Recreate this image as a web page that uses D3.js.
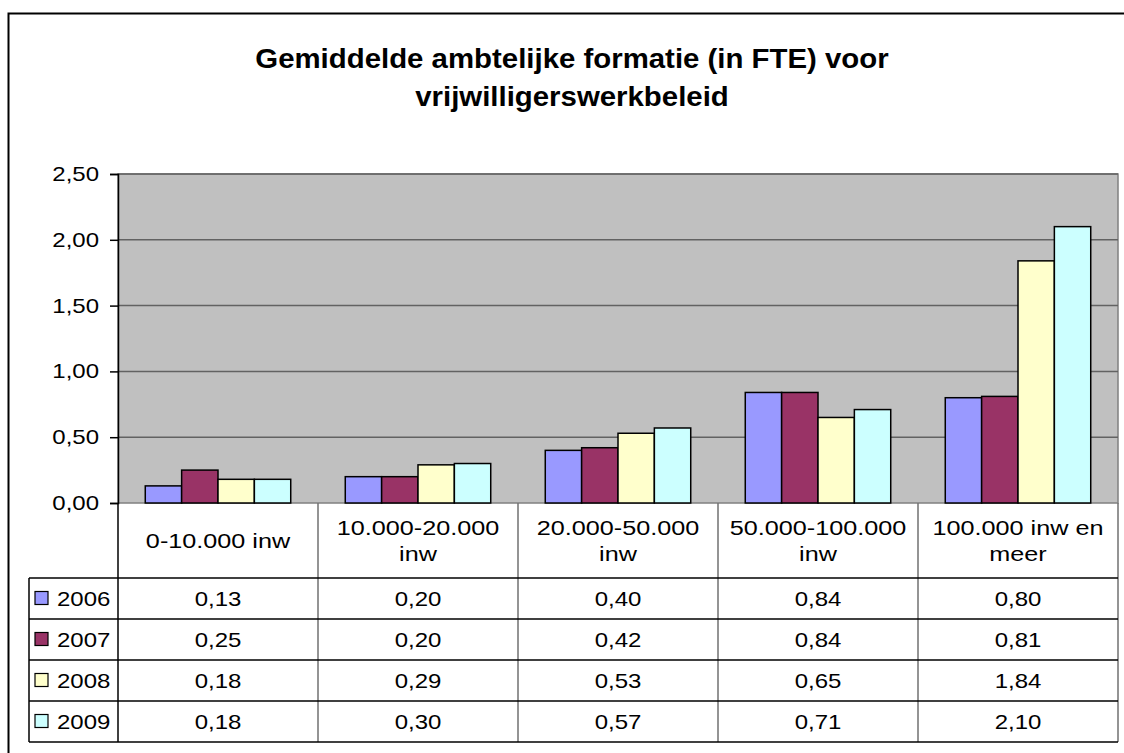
<!DOCTYPE html>
<html lang="nl">
<head>
    <meta charset="UTF-8">
    <title>Gemiddelde ambtelijke formatie (in FTE) voor vrijwilligerswerkbeleid</title>
    <script src="https://d3js.org/d3.v7.min.js"></script>
    <style>
        body { margin: 0; background: #fff; }
        svg { display: block; font-family: "Liberation Sans", Arial, sans-serif; }
    </style>
</head>
<body>
    <div id="chart"></div>
    <script>
        // Data
        const categories = [["0-10.000 inw"], ["10.000-20.000", "inw"], ["20.000-50.000", "inw"],
                            ["50.000-100.000", "inw"], ["100.000 inw en", "meer"]];
        const years = ["2006", "2007", "2008", "2009"];
        const values2006 = [0.13, 0.20, 0.40, 0.84, 0.80];
        const values2007 = [0.25, 0.20, 0.42, 0.84, 0.81];
        const values2008 = [0.18, 0.29, 0.53, 0.65, 1.84];
        const values2009 = [0.18, 0.30, 0.57, 0.71, 2.10];
        const yTicks = [0, 0.5, 1, 1.5, 2, 2.5];
        const colors = ["#9999FF", "#993366", "#FFFFCC", "#CCFFFF"];

        const series = [values2006, values2007, values2008, values2009];
        const nl = d3.formatLocale({decimal: ",", thousands: ".", grouping: [3], currency: ["€", ""]});
        const fmt = nl.format(".2f");

        // the original renders its small text noticeably wide, so stretch it a bit
        const SX = 1.2;
        const FS = "20px";

        const svg = d3.select("#chart").append("svg")
            .attr("width", 1124)
            .attr("height", 753);

        // Outer chart frame (runs off the right and bottom edges)
        svg.append("rect")
            .attr("x", 8.5).attr("y", 13.5)
            .attr("width", 1130).attr("height", 760)
            .attr("fill", "none")
            .attr("stroke", "#000")
            .attr("stroke-width", 2);

        // Title
        const titleLines = ["Gemiddelde ambtelijke formatie (in FTE) voor", "vrijwilligerswerkbeleid"];
        svg.append("g").selectAll("text")
            .data(titleLines)
            .join("text")
            .attr("x", 572 / 1.05)
            .attr("y", (d, i) => 68 + i * 38)
            .attr("transform", "scale(1.05,1)")
            .attr("text-anchor", "middle")
            .style("font-size", "28px").style("font-weight", "bold")
            .text(d => d);

        const plot = {left: 118, right: 1118, top: 174, bottom: 503};

        // Scales
        const x = d3.scaleBand()
            .domain(d3.range(categories.length))
            .range([plot.left, plot.right]);
        const xInner = d3.scaleBand()
            .domain(years)
            .range([0, x.bandwidth()])
            .paddingInner(0)
            .paddingOuter(0.75);
        const y = d3.scaleLinear()
            .domain([0, 2.5])
            .range([plot.bottom, plot.top]);

        // Plot area
        svg.append("rect")
            .attr("x", plot.left).attr("y", plot.top)
            .attr("width", plot.right - plot.left).attr("height", plot.bottom - plot.top)
            .attr("fill", "#C0C0C0")
            .attr("stroke", "#808080")
            .attr("stroke-width", 1.5);

        // Gridlines
        svg.append("g")
            .selectAll("line")
            .data(yTicks.filter(d => d > 0))
            .join("line")
            .attr("x1", plot.left).attr("x2", plot.right)
            .attr("y1", d => y(d)).attr("y2", d => y(d))
            .attr("stroke", "#626262")
            .attr("stroke-width", 1.5);

        // Y axis
        const yAxis = svg.append("g")
            .attr("transform", `translate(${plot.left},0)`)
            .call(d3.axisLeft(y).tickValues(yTicks).tickFormat(fmt).tickSize(8));
        yAxis.select(".domain").attr("stroke", "#000").attr("stroke-width", 1.5);
        yAxis.selectAll(".tick line").attr("stroke", "#000").attr("stroke-width", 1.5);
        yAxis.selectAll(".tick text")
            .attr("x", -19 / SX)
            .attr("transform", `scale(${SX},1)`)
            .style("font-size", FS)
            .style("font-family", "'Liberation Sans', Arial, sans-serif")
            .attr("fill", "#000");

        // Bars
        svg.append("g")
            .selectAll("g")
            .data(series)
            .join("g")
            .attr("fill", (d, i) => colors[i])
            .selectAll("rect")
            .data((vals, i) => vals.map((v, c) => ({v, c, year: years[i]})))
            .join("rect")
            .attr("x", d => x(d.c) + xInner(d.year))
            .attr("y", d => y(d.v))
            .attr("width", xInner.bandwidth())
            .attr("height", d => y(0) - y(d.v))
            .attr("stroke", "#000")
            .attr("stroke-width", 1.5);

        // Data table
        const table = {left: 29, headerBottom: 578, rowHeight: 41};
        const rowY = i => table.headerBottom + i * table.rowHeight;
        const tableBottom = rowY(years.length);

        const tg = svg.append("g");

        // vertical column lines
        tg.selectAll("line.col")
            .data(d3.range(categories.length + 1))
            .join("line")
            .attr("class", "col")
            .attr("x1", i => i < categories.length ? x(i) : plot.right)
            .attr("x2", i => i < categories.length ? x(i) : plot.right)
            .attr("y1", plot.bottom)
            .attr("y2", tableBottom)
            .attr("stroke", i => i === 0 ? "#000" : "#707070")
            .attr("stroke-width", 1.5);
        // legend column left edge
        tg.append("line")
            .attr("x1", table.left).attr("x2", table.left)
            .attr("y1", table.headerBottom).attr("y2", tableBottom)
            .attr("stroke", "#000").attr("stroke-width", 1.5);
        // horizontal row lines
        tg.selectAll("line.row")
            .data(d3.range(years.length + 1))
            .join("line")
            .attr("class", "row")
            .attr("x1", table.left).attr("x2", plot.right)
            .attr("y1", i => rowY(i)).attr("y2", i => rowY(i))
            .attr("stroke", "#000")
            .attr("stroke-width", 1.5);

        // category labels
        tg.selectAll("text.cat")
            .data(categories)
            .join("text")
            .attr("class", "cat")
            .attr("text-anchor", "middle")
            .attr("transform", `scale(${SX},1)`)
            .style("font-size", "21px")
            .each(function(lines, i) {
                const cx = x(i) + x.bandwidth() / 2;
                const mid = (plot.bottom + table.headerBottom) / 2;
                const lh = 26;
                const y0 = mid - (lines.length - 1) * lh / 2 + 7.5;
                d3.select(this).selectAll("tspan")
                    .data(lines)
                    .join("tspan")
                    .attr("x", cx / SX)
                    .attr("y", (l, k) => y0 + k * lh)
                    .text(l => l);
            });

        // legend keys and year labels
        years.forEach((yr, i) => {
            const cy = rowY(i) + table.rowHeight / 2;
            tg.append("rect")
                .attr("x", 35).attr("y", cy - 7)
                .attr("width", 13).attr("height", 13)
                .attr("fill", colors[i])
                .attr("stroke", "#000")
                .attr("stroke-width", 1.2);
            tg.append("text")
                .attr("x", 57 / SX).attr("y", cy + 7.5)
                .attr("transform", `scale(${SX},1)`)
                .style("font-size", FS)
                .text(yr);
        });

        // value cells
        series.forEach((vals, i) => {
            tg.selectAll(null)
                .data(vals)
                .join("text")
                .attr("x", (v, c) => (x(c) + x.bandwidth() / 2) / SX)
                .attr("y", rowY(i) + table.rowHeight / 2 + 7.5)
                .attr("transform", `scale(${SX},1)`)
                .attr("text-anchor", "middle")
                .style("font-size", FS)
                .text(v => fmt(v));
        });
    </script>
</body>
</html>
